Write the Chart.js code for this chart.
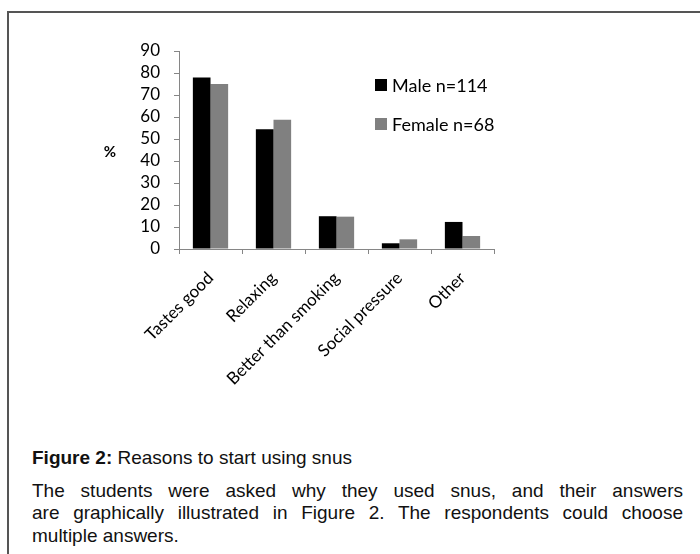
<!DOCTYPE html>
<html>
<head>
<meta charset="utf-8">
<script src="https://cdn.jsdelivr.net/npm/chart.js@4.4.1/dist/chart.umd.min.js"></script>
<style>
  html, body { margin: 0; padding: 0; background: #fff; }
  body { width: 700px; height: 554px; position: relative; overflow: hidden; }
  .frame { position: absolute; left: 7px; top: 11px; width: 720px; height: 600px;
    border-left: 2px solid #555; border-top: 2px solid #555; }
  .plot { position: absolute; left: 0; top: 0; width: 700px; height: 440px; }
  .caption { position: absolute; left: 32px; width: 651px; top: 447px;
    font-family: "Liberation Sans", Arial, sans-serif; font-size: 19px; line-height: 22.5px; color: #111; }
  .caption p { margin: 0; }
  .caption .body { margin-top: 10px; }
  .caption .line { display: block; white-space: nowrap; }
  .caption .full { text-align: justify; text-align-last: justify; }
</style>
</head>
<body>
<div class="frame"></div>
<div class="plot"><canvas id="chart" width="700" height="440"></canvas></div>
<div class="caption">
  <p><b>Figure 2:</b> Reasons to start using snus</p>
  <p class="body"><span class="line full">The students were asked why they used snus, and their answers</span><span class="line full">are graphically illustrated in Figure 2. The respondents could choose</span><span class="line">multiple answers.</span></p>
</div>
<script>
const categories = ["Tastes good", "Relaxing", "Better than smoking", "Social pressure", "Other"];
const maleValues = [78, 54.4, 14.9, 2.6, 12.3];
const femaleValues = [75, 58.8, 14.7, 4.4, 5.9];
const seriesNames = ["Male n=114", "Female n=68"];
const yMax = 90;
const yStep = 10;

const axisGray = "#868686";
const font = { family: "Lato", size: 17 };

// legend and "%" label drawn by hand, Excel style
const extras = {
  id: "extras",
  afterDraw(chart) {
    const ctx = chart.ctx;
    ctx.save();
    ctx.fillStyle = "#000";
    ctx.font = "bold 15px Lato";
    ctx.textAlign = "center";
    ctx.textBaseline = "middle";
    ctx.fillText("%", 110, 152);

    ctx.font = "18px Lato";
    ctx.textAlign = "left";
    chart.data.datasets.forEach((ds, i) => {
      const y = 85 + i * 39;
      ctx.fillStyle = ds.backgroundColor;
      ctx.fillRect(375, y - 6, 12, 12);
      ctx.fillStyle = "#000";
      ctx.fillText(ds.label, 392, y + 1);
    });
    ctx.restore();
  }
};

new Chart(document.getElementById("chart"), {
  type: "bar",
  data: {
    labels: categories,
    datasets: [
      { label: seriesNames[0], data: maleValues, backgroundColor: "#000000" },
      { label: seriesNames[1], data: femaleValues, backgroundColor: "#808080" }
    ]
  },
  options: {
    responsive: false,
    animation: false,
    categoryPercentage: 0.56,
    barPercentage: 1,
    layout: { padding: { top: 51, right: 206, bottom: 0, left: 0 } },
    plugins: { legend: { display: false }, tooltip: { enabled: false } },
    scales: {
      x: {
        grid: { offset: true, drawOnChartArea: false, tickLength: 5, color: axisGray },
        border: { color: axisGray },
        ticks: { color: "#000", font: font, minRotation: 45, maxRotation: 45, autoSkip: false, padding: 14 },
        afterFit: (s) => { s.height = 191; }
      },
      y: {
        min: 0,
        max: yMax,
        grid: { drawOnChartArea: false, tickLength: 5, color: axisGray },
        border: { color: axisGray },
        ticks: { color: "#000", font: font, stepSize: yStep, autoSkip: false, padding: 14 },
        afterFit: (s) => { s.width = 179; }
      }
    }
  },
  plugins: [extras]
});
</script>
</body>
</html>
